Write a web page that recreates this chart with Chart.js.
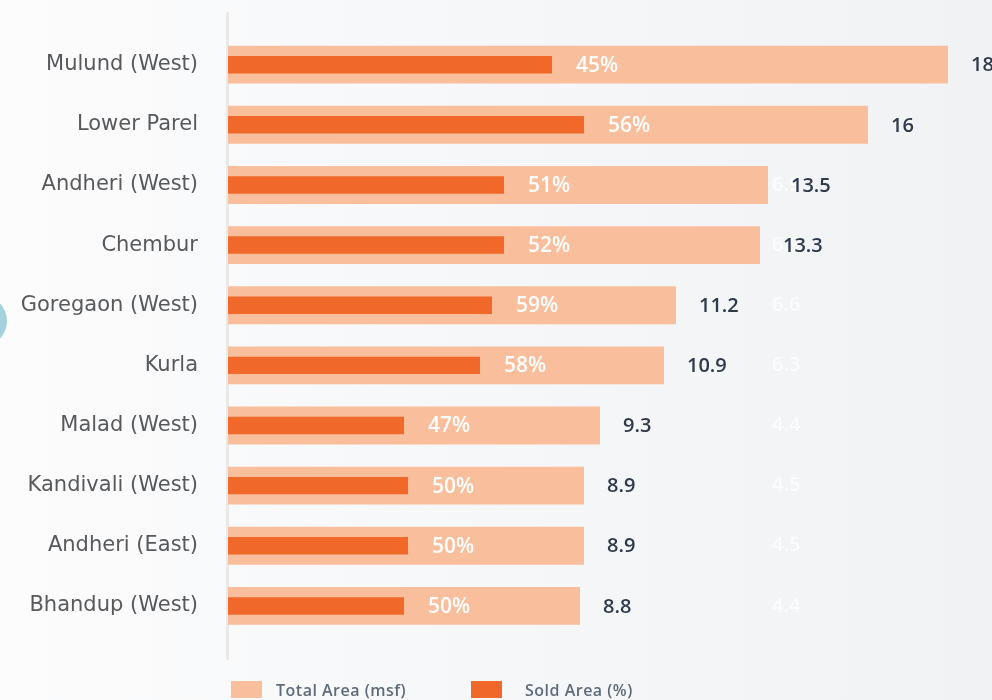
<!DOCTYPE html>
<html>
<head>
<meta charset="utf-8">
<script src="https://cdn.jsdelivr.net/npm/chart.js@4.4.1/dist/chart.umd.min.js"></script>
<style>
  html, body { margin: 0; padding: 0; }
  body { width: 992px; height: 700px; overflow: hidden; position: relative;
         background: linear-gradient(90deg, #fcfcfd 0%, #f7f8f9 40%, #f1f2f4 100%); font-family: "Open Sans", sans-serif; }
  #wrap { position: absolute; left: 0; top: 0; width: 992px; height: 700px; }
  .deco { position: absolute; left: -50px; top: 294px; width: 57px; height: 54px; border-radius: 50%; background: #a3d2de; }
  .legend { position: absolute; top: 681px; height: 17px; display: flex; align-items: center; font-size: 16px; font-weight: 600; letter-spacing: 0.5px; color: #5f6b7b; }
  .legend .box { width: 31px; height: 17px; }
</style>
</head>
<body>
<div class="deco"></div>
<div id="wrap"><canvas id="c" width="992" height="700"></canvas></div>
<div class="legend" style="left:231px"><span class="box" style="background:#f9be9b;margin-right:14px"></span><span>Total Area (msf)</span></div>
<div class="legend" style="left:471px"><span class="box" style="background:#f0682a;margin-right:23px"></span><span>Sold Area (%)</span></div>
<script>
const categories = ["Mulund (West)", "Lower Parel", "Andheri (West)", "Chembur", "Goregaon (West)",
                    "Kurla", "Malad (West)", "Kandivali (West)", "Andheri (East)", "Bhandup (West)"];
const totalArea = [18, 16, 13.5, 13.3, 11.2, 10.9, 9.3, 8.9, 8.9, 8.8];
const soldArea = [8.1, 8.9, 6.9, 6.9, 6.6, 6.3, 4.4, 4.5, 4.5, 4.4];
const soldPct = [45, 56, 51, 52, 59, 58, 47, 50, 50, 50];
const seriesNames = ["Total Area (msf)", "Sold Area (%)"];

const labelPlugin = {
  id: 'labels',
  beforeDatasetsDraw(chart) {
    const ctx = chart.ctx;
    const a = chart.chartArea;
    ctx.save();
    ctx.fillStyle = '#e9e9ea';
    ctx.fillRect(a.left - 2, 12, 3, 648);
    const mT = chart.getDatasetMeta(0);
    const xs = chart.scales.x;
    ctx.font = '600 20px "Open Sans"';
    ctx.fillStyle = 'rgba(255,255,255,0.7)';
    ctx.textBaseline = 'middle';
    ctx.textAlign = 'left';
    mT.data.forEach((bar, i) => {
      ctx.fillText(String(soldArea[i]), xs.getPixelForValue(13.6), bar.y);
    });
    ctx.restore();
  },
  afterDatasetsDraw(chart) {
    const ctx = chart.ctx;
    const mT = chart.getDatasetMeta(0);
    const mS = chart.getDatasetMeta(1);
    ctx.save();
    ctx.textBaseline = 'middle';
    ctx.textAlign = 'left';
    ctx.font = '600 20px "Open Sans"';
    ctx.fillStyle = '#2f3a4c';
    mT.data.forEach((bar, i) => { ctx.fillText(String(totalArea[i]), bar.x + 23, bar.y + 1); });
    ctx.font = '600 21px "Open Sans"';
    ctx.fillStyle = '#ffffff';
    mS.data.forEach((bar, i) => { ctx.fillText(soldPct[i] + '%', bar.x + 24, bar.y + 1); });
    ctx.restore();
  }
};

new Chart(document.getElementById('c'), {
  type: 'bar',
  data: {
    labels: categories,
    datasets: [
      { label: seriesNames[0], data: totalArea, backgroundColor: '#f9be9b', order: 1,
        grouped: false, barPercentage: 0.63, categoryPercentage: 1 },
      { label: seriesNames[1], data: soldArea, backgroundColor: '#f0682a', order: 0,
        grouped: false, barPercentage: 0.29, categoryPercentage: 1 }
    ]
  },
  options: {
    indexAxis: 'y',
    responsive: false,
    animation: false,
    layout: { padding: { top: 21, bottom: 64, right: 4, left: 0 } },
    plugins: { legend: { display: false }, tooltip: { enabled: false } },
    scales: {
      x: { display: false, min: 0, max: 19 },
      y: {
        afterFit(s) { s.width = 228; },
        grid: { display: false }, border: { display: false },
        ticks: { padding: 22, color: '#58595b', font: { family: 'DejaVu Sans', size: 21 } }
      }
    }
  },
  plugins: [labelPlugin]
});
</script>
</body>
</html>
